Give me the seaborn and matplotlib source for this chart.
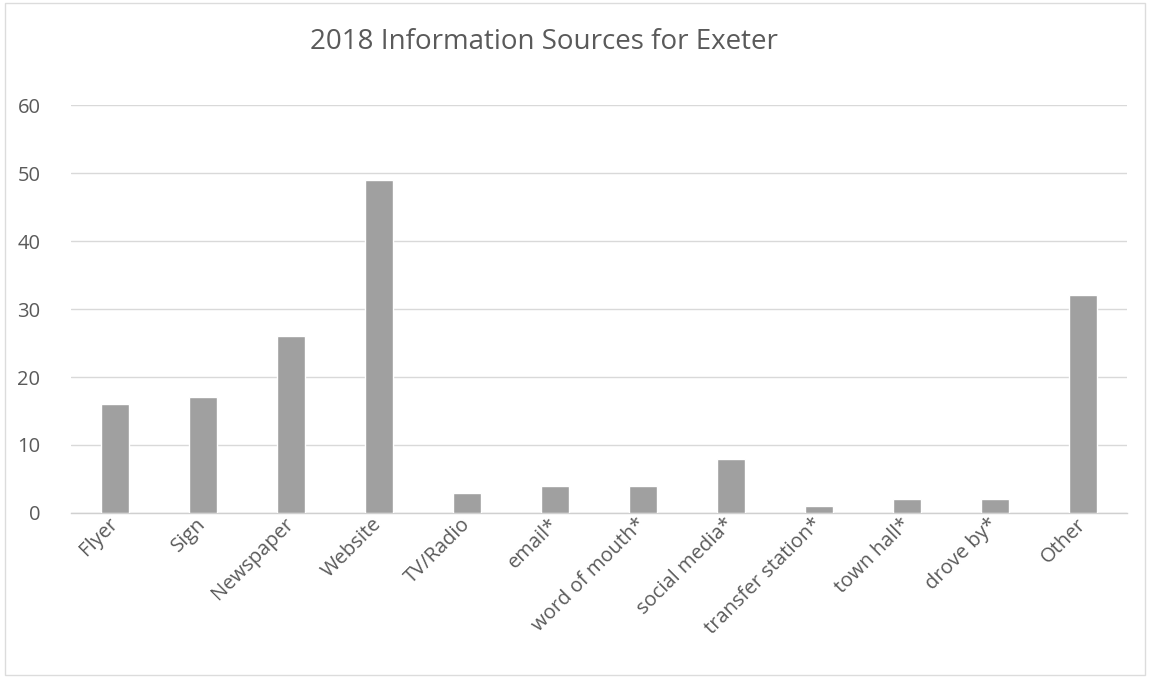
import matplotlib
matplotlib.use("Agg")
import matplotlib.pyplot as plt
import seaborn as sns
import pandas as pd
from matplotlib.patches import Rectangle

sources = ["Flyer", "Sign", "Newspaper", "Website", "TV/Radio", "email*",
           "word of mouth*", "social media*", "transfer station*", "town hall*",
           "drove by*", "Other"]
counts = [16, 17, 26, 49, 3, 4, 4, 8, 1, 2, 2, 32]
y_ticks = [0, 10, 20, 30, 40, 50, 60]

df = pd.DataFrame({"source": sources, "count": counts})

sns.set_theme(style="white")
plt.rcParams["font.family"] = ["Open Sans", "DejaVu Sans"]

text_grey = "#5a5a5a"

fig = plt.figure(figsize=(11.5, 6.78), dpi=100)
ax = fig.add_axes([0.0617, 0.2434, 0.9183, 0.6016])

sns.barplot(data=df, x="source", y="count", color="#a0a0a0", width=0.32,
            saturation=1, ax=ax, zorder=3)

ax.set_ylim(0, 60)
ax.set_yticks(y_ticks)
ax.set_xlim(-0.5, len(sources) - 0.5)
ax.yaxis.grid(True, color="#d9d9d9", linewidth=1.0, zorder=0)
ax.set_axisbelow(True)
for s in ["top", "right", "left"]:
    ax.spines[s].set_visible(False)
ax.spines["bottom"].set_color("#d0d0d0")
ax.spines["bottom"].set_linewidth(1.0)

ax.set_xlabel("")
ax.set_ylabel("")
ax.tick_params(axis="y", length=0, pad=22, labelsize=14.5, labelcolor=text_grey)
ax.tick_params(axis="x", length=0, pad=6, labelsize=14.5, labelcolor=text_grey)
for lab in ax.get_xticklabels():
    lab.set_rotation(45)
    lab.set_ha("right")
    lab.set_va("center")
    lab.set_rotation_mode("anchor")

fig.text(0.473, 0.938, "2018 Information Sources for Exeter", ha="center",
         va="center", fontsize=20, color=text_grey)

# light chart-area border
fig.patches.append(Rectangle((0.004, 0.004), 0.992, 0.992, transform=fig.transFigure,
                             fill=False, edgecolor="#dcdcdc", linewidth=1.0))

fig.savefig("out.png", dpi=100, facecolor="white")
